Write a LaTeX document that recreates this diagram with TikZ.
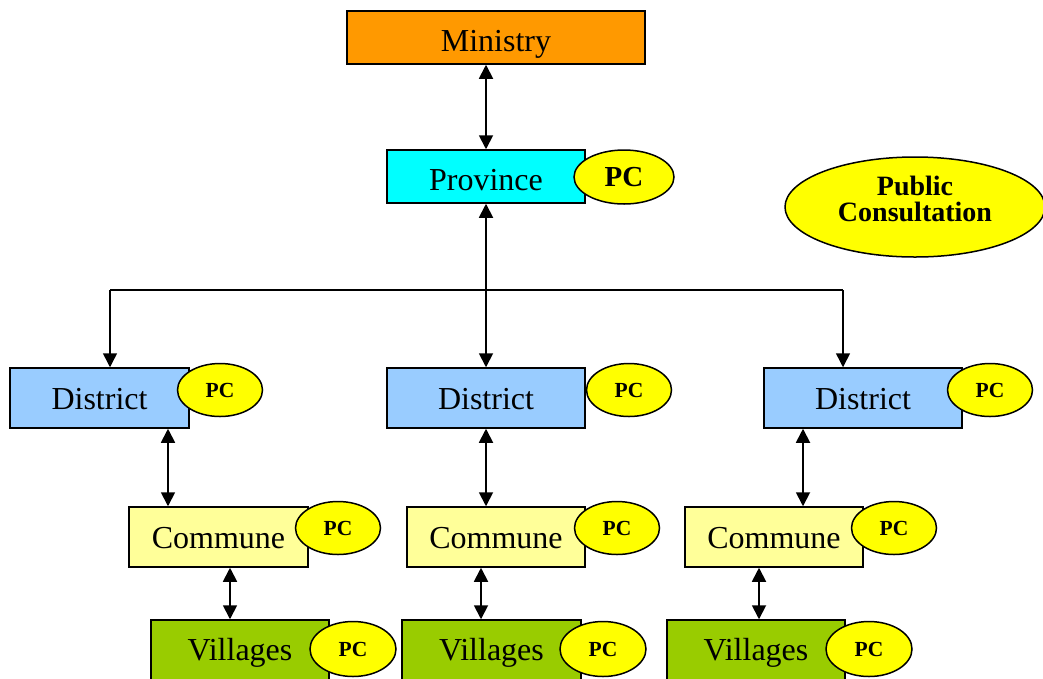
\documentclass[tikz,border=0pt]{standalone}
\usepackage{fontspec}
\setmainfont{Liberation Serif}
\usetikzlibrary{shapes.geometric,arrows.meta}
\definecolor{minorange}{HTML}{FF9900}
\definecolor{provcyan}{HTML}{00FFFF}
\definecolor{distblue}{HTML}{99CCFF}
\definecolor{commyellow}{HTML}{FFFF99}
\definecolor{villgreen}{HTML}{99CC00}
\definecolor{pcyellow}{HTML}{FFFF00}
\tikzset{
  box/.style={draw=black, line width=1.5pt, inner sep=0pt, minimum height=60pt,
              text height=26pt, text depth=4pt,
              font=\fontsize{32}{38}\selectfont},
  topbox/.style={box, minimum height=53pt, text height=30pt, text depth=2pt},
  villbox/.style={box, fill=villgreen, minimum height=62pt, text height=24pt, text depth=6pt},
  pc/.style={ellipse, draw=black, line width=1.5pt, fill=pcyellow, inner sep=0pt,
             minimum width=85pt, minimum height=53pt, font=\bfseries\fontsize{21.5}{24}\selectfont},
  link/.style={line width=1.8pt, {Triangle[width=14pt,length=14pt]}-{Triangle[width=14pt,length=14pt]}},
  down/.style={line width=1.5pt, -{Triangle[width=14pt,length=14pt]}},
}
\begin{document}
\begin{tikzpicture}[x=1pt,y=-1pt]
\path[use as bounding box] (0,0) rectangle (1043,678);
\clip (0,0) rectangle (1043,678);

% management levels
\node[topbox, fill=minorange, minimum width=298pt] (min) at (496,37.5) {Ministry};
\node[topbox, fill=provcyan, minimum width=198pt] (prov) at (486,176.5) {Province};

\node[box, fill=distblue, minimum width=179pt] (dL) at (99.5,398) {District};
\node[box, fill=distblue, minimum width=198pt] (dM) at (486,398) {District};
\node[box, fill=distblue, minimum width=198pt] (dR) at (863,398) {District};

\node[box, fill=commyellow, minimum width=179pt] (cL) at (218.5,537) {Commune};
\node[box, fill=commyellow, minimum width=178pt] (cM) at (496,537) {Commune};
\node[box, fill=commyellow, minimum width=178pt] (cR) at (774,537) {Commune};

\node[villbox, minimum width=178pt] (vL) at (240,651) {Villages};
\node[villbox, minimum width=179pt] (vM) at (491.5,651) {Villages};
\node[villbox, minimum width=178pt] (vR) at (756,651) {Villages};

% public consultation markers
\node[pc, minimum width=100pt, minimum height=54pt, font=\bfseries\fontsize{29}{32}\selectfont] (pcP) at (624,177) {PC};
\node[pc] (pcDL) at (220,390) {PC};
\node[pc] (pcDM) at (629,390) {PC};
\node[pc] (pcDR) at (990,390) {PC};
\node[pc] (pcCL) at (338,528) {PC};
\node[pc] (pcCM) at (617,528) {PC};
\node[pc] (pcCR) at (894,528) {PC};
\node[pc, minimum width=86pt, minimum height=55pt] (pcVL) at (353,649) {PC};
\node[pc, minimum width=86pt, minimum height=55pt] (pcVM) at (603,649) {PC};
\node[pc, minimum width=86pt, minimum height=55pt] (pcVR) at (869,649) {PC};

% legend
\node[pc, minimum width=260pt, minimum height=100pt, align=center,
      text height=30pt, text depth=2pt,
      font=\bfseries\fontsize{28}{26}\selectfont] (legend) at (915,207) {Public\\Consultation};

% connectors
\draw[link] (prov.north |- min.south) -- (prov.north);
\draw[link] (prov.south) -- (dM.north);

\coordinate (busL) at (110,290);
\coordinate (busR) at (843,290);
\draw[line width=1.5pt] (busL) -- (busR);
\draw[down] (busL) -- (busL |- dL.north);
\draw[down] (busR) -- (busR |- dR.north);

\draw[link] ([xshift=68.5pt]dL.south) -- ([xshift=68.5pt]dL.south |- cL.north);
\draw[link] (dM.south) -- (dM.south |- cM.north);
\draw[link] ([xshift=-60pt]dR.south) -- ([xshift=-60pt]dR.south |- cR.north);

\draw[link] ([xshift=11.5pt]cL.south) -- ([xshift=11.5pt]cL.south |- vL.north);
\draw[link] ([xshift=-15pt]cM.south) -- ([xshift=-15pt]cM.south |- vM.north);
\draw[link] ([xshift=-15pt]cR.south) -- ([xshift=-15pt]cR.south |- vR.north);
\end{tikzpicture}
\end{document}
